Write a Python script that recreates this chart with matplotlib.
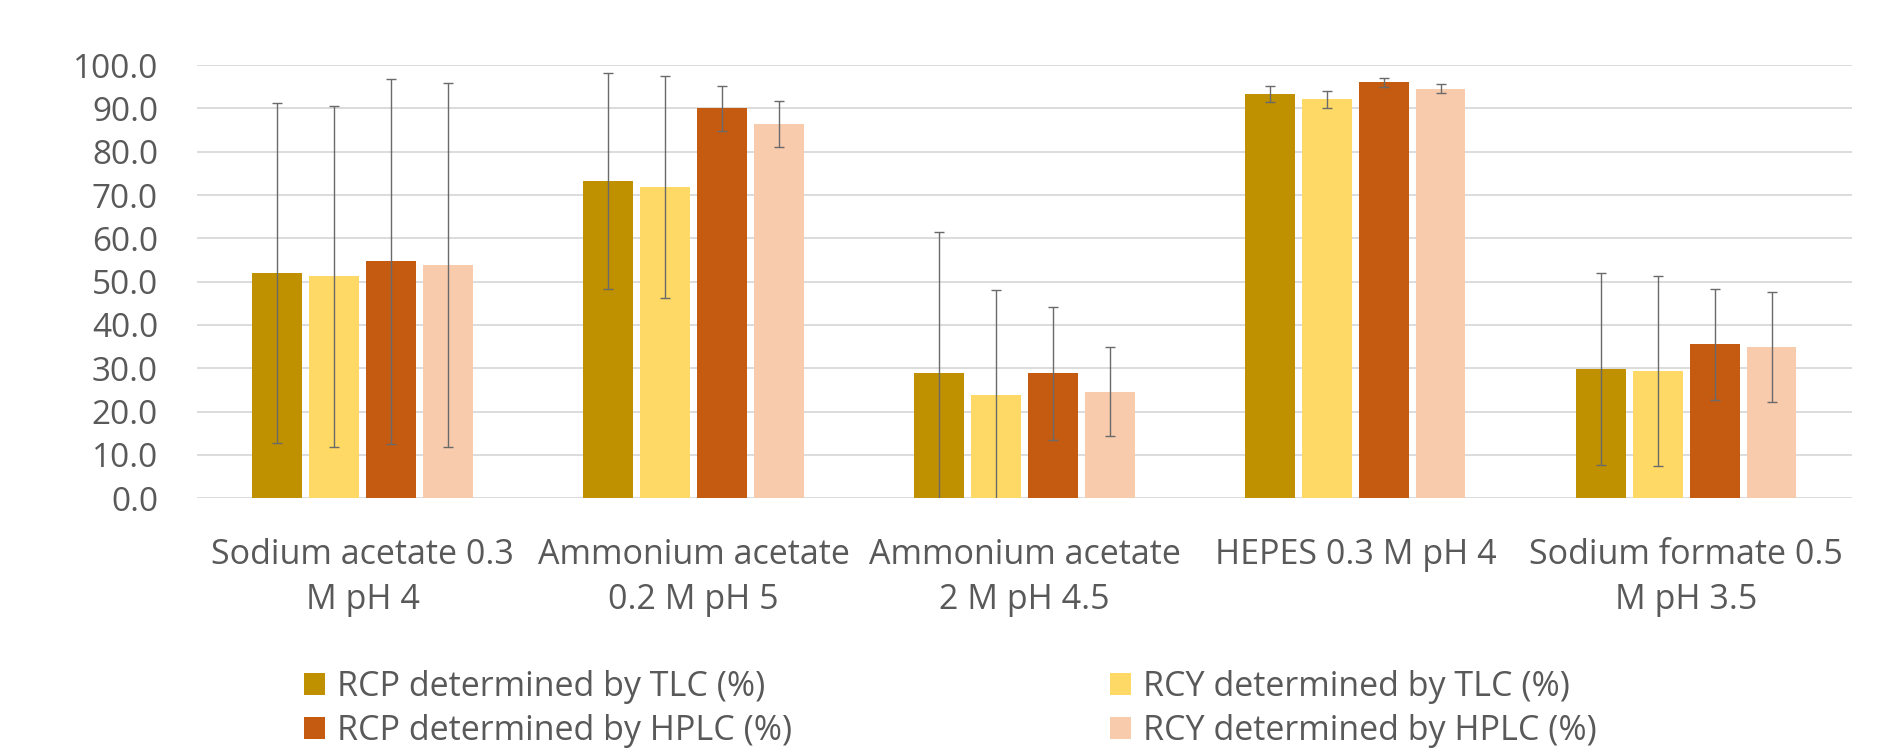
import numpy as np
import matplotlib.pyplot as plt
from matplotlib.patches import Patch

# categories and series
categories = ["Sodium acetate 0.3\nM pH 4", "Ammonium acetate\n0.2 M pH 5",
              "Ammonium acetate\n2 M pH 4.5", "HEPES 0.3 M pH 4",
              "Sodium formate 0.5\nM pH 3.5"]
series_names = ["RCP determined by TLC (%)", "RCY determined by TLC (%)",
                "RCP determined by HPLC (%)", "RCY determined by HPLC (%)"]
rcp_tlc = [52.0, 73.3, 29.0, 93.3, 29.8]
rcy_tlc = [51.2, 71.9, 23.8, 92.1, 29.3]
rcp_hplc = [54.7, 90.0, 28.8, 96.0, 35.5]
rcy_hplc = [53.9, 86.4, 24.6, 94.6, 34.9]
err_rcp_tlc = [39.2, 25.0, 32.4, 1.9, 22.1]
err_rcy_tlc = [39.3, 25.6, 24.2, 2.0, 21.9]
err_rcp_hplc = [42.2, 5.1, 15.4, 1.1, 12.8]
err_rcy_hplc = [42.0, 5.4, 10.2, 1.0, 12.7]

colors = ["#BF9000", "#FFD966", "#C55A11", "#F8CBAD"]
text_color = "#595959"

plt.rcParams['font.family'] = ['Open Sans', 'DejaVu Sans']

fig = plt.figure(figsize=(18.87, 7.49), dpi=100)
ax = fig.add_axes([0.1044, 0.335, 0.877, 0.578])

values = [rcp_tlc, rcy_tlc, rcp_hplc, rcy_hplc]
errors = [err_rcp_tlc, err_rcy_tlc, err_rcp_hplc, err_rcy_hplc]
x = np.arange(len(categories))
step = 0.172
width = 0.149
for i, (v, e) in enumerate(zip(values, errors)):
    pos = x + (i - 1.5) * step
    ax.bar(pos, v, width, color=colors[i], zorder=2)
    ax.errorbar(pos, v, yerr=e, fmt='none', ecolor='#6a6a6a', elinewidth=1.0,
                capsize=3.5, capthick=1.0, zorder=3)

ax.set_xlim(-0.5, len(categories) - 0.5)
ax.set_ylim(0, 100)
ax.set_yticks(np.arange(0, 101, 10))
ax.set_yticklabels([f"{t:.1f}" for t in np.arange(0, 101, 10)])
ax.yaxis.grid(True, color='#D9D9D9', linewidth=1.3, zorder=0)
ax.set_axisbelow(True)
for s in ax.spines.values():
    s.set_visible(False)
ax.tick_params(axis='both', length=0, colors=text_color)
ax.tick_params(axis='y', pad=28, labelsize=24)
ax.tick_params(axis='x', pad=29, labelsize=24.5)
ax.set_xticks(x)
ax.set_xticklabels(categories, linespacing=1.4)

# legend in two columns
handles = [Patch(facecolor=c) for c in colors]
kw = dict(frameon=False, fontsize=24.5, labelcolor=text_color, handlelength=0.62,
          handleheight=0.62, handletextpad=0.35, labelspacing=0.3,
          borderpad=0, borderaxespad=0, loc='upper left')
fig.legend(handles[0::2], series_names[0::2], bbox_to_anchor=(0.161, 0.106), **kw)
fig.legend(handles[1::2], series_names[1::2], bbox_to_anchor=(0.588, 0.106), **kw)

fig.savefig("out.png", dpi=100)
